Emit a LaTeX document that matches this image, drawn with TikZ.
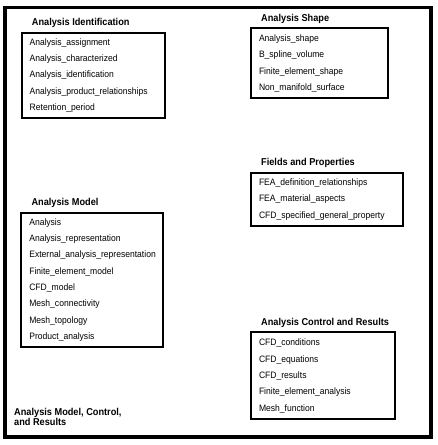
\documentclass[tikz,border=0pt]{standalone}
\usepackage{fontspec}
\setmainfont{Liberation Sans}[FakeStretch=0.92]
\usetikzlibrary{positioning}

\begin{document}
\begin{tikzpicture}[x=1pt,y=1pt]
\tikzstyle{every node}=[font=\fontsize{9.3}{16.3}\selectfont]
\tikzstyle{groupbox}=[draw,line width=2pt,inner xsep=8pt,inner ysep=0pt,align=left,anchor=north west]
\tikzstyle{grouptitle}=[font=\fontsize{10}{10}\selectfont\bfseries,inner sep=0pt,anchor=base west,xshift=11pt,yshift=6pt]
\tikzstyle{groupcaption}=[font=\fontsize{10}{10}\selectfont\bfseries,inner sep=0pt,anchor=south west,align=left]
\useasboundingbox (0,0) rectangle (437,445);
\draw[line width=3.5pt] (5,8) rectangle (431,437.5);

% left column
\node[groupbox,minimum width=143.5pt,minimum height=85pt,text width=127.5pt] (identbox) at (20.7,413)
  {Analysis\_assignment\\Analysis\_characterized\\Analysis\_identification\\Analysis\_product\_relationships\\Retention\_period};
\node[grouptitle] (identtitle) at (identbox.north west) {Analysis Identification};

\node[groupbox,minimum width=142pt,minimum height=134pt,text width=126pt] (modelbox) at (20.3,233)
  {Analysis\\Analysis\_representation\\External\_analysis\_representation\\Finite\_element\_model\\CFD\_model\\Mesh\_connectivity\\Mesh\_topology\\Product\_analysis};
\node[grouptitle] (modeltitle) at (modelbox.north west) {Analysis Model};

% right column
\node[groupbox,minimum width=137pt,minimum height=70pt,text width=121pt] (shapebox) at (250,417.5)
  {Analysis\_shape\\B\_spline\_volume\\Finite\_element\_shape\\Non\_manifold\_surface};
\node[grouptitle] (shapetitle) at (shapebox.north west) {Analysis Shape};

\node[groupbox,minimum width=152pt,minimum height=53pt,text width=136pt] (fieldsbox) at (250,273)
  {FEA\_definition\_relationships\\FEA\_material\_aspects\\CFD\_specified\_general\_property};
\node[grouptitle] (fieldstitle) at (fieldsbox.north west) {Fields and Properties};

\node[groupbox,minimum width=144pt,minimum height=87pt,text width=128pt] (controlbox) at (250,113.5)
  {CFD\_conditions\\CFD\_equations\\CFD\_results\\Finite\_element\_analysis\\Mesh\_function};
\node[grouptitle] (controltitle) at (controlbox.north west) {Analysis Control and Results};

\node[groupcaption] (caption) at (14,19) {Analysis Model, Control,\\and Results};
\end{tikzpicture}
\end{document}
